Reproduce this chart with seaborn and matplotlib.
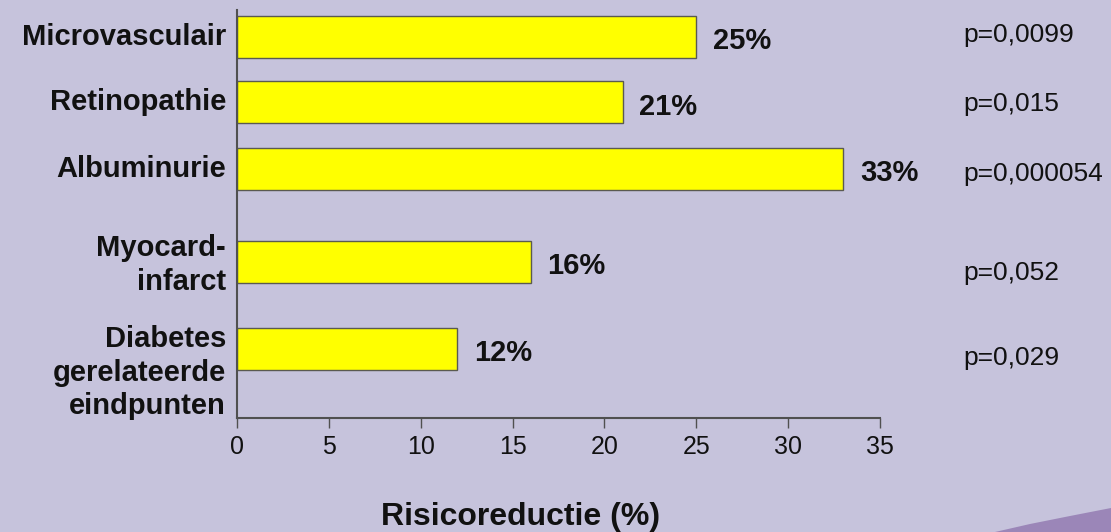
import matplotlib
matplotlib.use("Agg")
import matplotlib.pyplot as plt
from matplotlib.patches import Polygon
from matplotlib.transforms import ScaledTranslation, blended_transform_factory
import seaborn as sns
import pandas as pd

# Data
categories = ["Microvasculair", "Retinopathie", "Albuminurie",
              "Myocard-\ninfarct", "Diabetes\ngerelateerde\neindpunten"]
reduction = [25, 21, 33, 16, 12]
value_labels = ["25%", "21%", "33%", "16%", "12%"]
p_values = ["p=0,0099", "p=0,015", "p=0,000054", "p=0,052", "p=0,029"]
x_ticks = [0, 5, 10, 15, 20, 25, 30, 35]

# Layout: row centres (the two clinical endpoints sit a little apart)
row_pos = [0.0, 1.0, 2.02, 3.44, 4.76]
label_nudge_px = [0, 0, 0, -3, -24]    # vertical shift of the category text
p_nudge_px = [2, -2, -5, -11, -9]      # vertical shift of the p-value text

BG = "#C6C3DC"
BAR = "#FFFF00"
EDGE = "#5A5A50"
AXC = "#505050"
INK = "#111111"

sns.set_theme(style="white")
plt.rcParams["font.family"] = ["Liberation Sans", "DejaVu Sans"]

fig = plt.figure(figsize=(11.11, 5.32), dpi=100, facecolor=BG)
ax = fig.add_axes([237 / 1111, 1 - 418 / 532, 643 / 1111, 408 / 532])
ax.set_facecolor(BG)

df = pd.DataFrame({"pos": row_pos, "val": reduction})
sns.barplot(data=df, x="val", y="pos", orient="y", native_scale=True,
            width=0.64, color=BAR, saturation=1, edgecolor=EDGE,
            linewidth=1.0, ax=ax)

ax.set_xlim(0, 35)
ax.set_ylim(5.82, -0.41)
ax.set_xticks(x_ticks)
ax.set_xticklabels([str(t) for t in x_ticks], fontsize=18, color=INK)
ax.set_yticks([])
ax.set_ylabel("")
ax.tick_params(axis="x", direction="out", length=7, width=1, color=AXC,
               pad=5, bottom=True)

for side in ["top", "right"]:
    ax.spines[side].set_visible(False)
for side in ["left", "bottom"]:
    ax.spines[side].set_color(AXC)
    ax.spines[side].set_linewidth(1.5)

# Value labels at the bar ends, sitting slightly low
anns = ax.bar_label(ax.containers[0], labels=value_labels, padding=12,
                    fontsize=21, fontweight="bold", color=INK)
for a in anns:
    a.xyann = (a.xyann[0], -3)

# Category labels left of the axis
trans_lab = blended_transform_factory(ax.transAxes, ax.transData)
for cat, y, dy in zip(categories, row_pos, label_nudge_px):
    t = trans_lab + ScaledTranslation(-11 / 100, dy / 100, fig.dpi_scale_trans)
    ax.text(0, y, cat, transform=t, ha="right", va="center", fontsize=21,
            fontweight="bold", color=INK, linespacing=1.25)

# p-values on the right
for p, y, dy in zip(p_values, row_pos, p_nudge_px):
    t = trans_lab + ScaledTranslation(0, dy / 100, fig.dpi_scale_trans)
    ax.text((963 - 237) / 643, y, p, transform=t, ha="left", va="center",
            fontsize=19, color=INK, clip_on=False)

ax.set_xlabel("Risicoreductie (%)", fontsize=23, fontweight="bold", color=INK)
ax.xaxis.set_label_coords((521 - 237) / 643, -99 / 408)
ax.xaxis.label.set_va("center")

# Decorative swoosh in the lower right corner
swoosh = Polygon([(995 / 1111, 0), (1030 / 1111, 8 / 532), (1070 / 1111, 16 / 532),
                  (1111 / 1111, 24 / 532), (1, 0)],
                 closed=True, transform=fig.transFigure, facecolor="#9B86B8",
                 edgecolor="none")
fig.patches.append(swoosh)

fig.savefig("out.png", dpi=100, facecolor=BG)
